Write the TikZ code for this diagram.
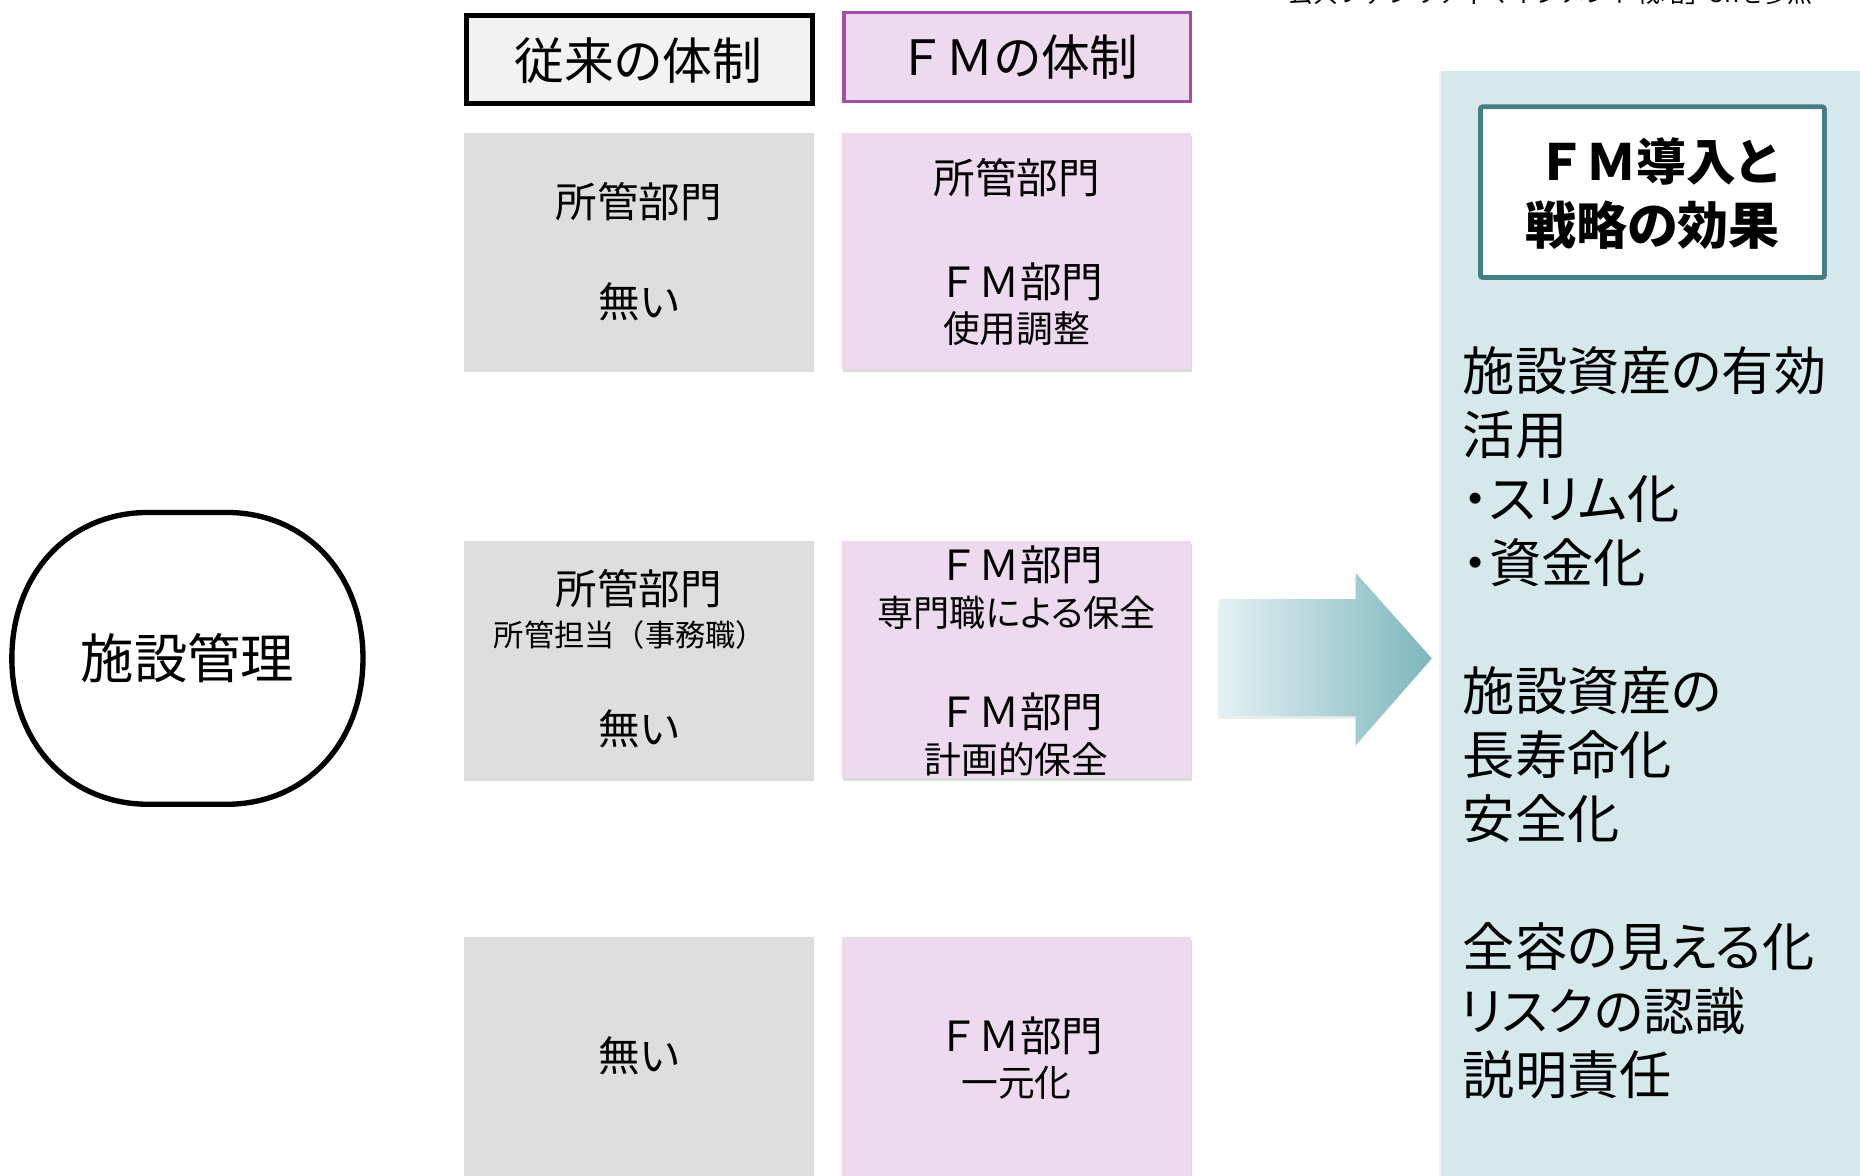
\documentclass[tikz,border=0pt]{standalone}
\usepackage{fontspec}
\setmainfont{Noto Sans CJK JP}[RawFeature=+palt]
\newfontfamily\fw{Noto Sans CJK JP}
\usetikzlibrary{shadows}
\definecolor{boxgray}{HTML}{DEDEDE}
\definecolor{headgray}{HTML}{F2F2F2}
\definecolor{boxpink}{HTML}{EDDAEE}
\definecolor{fmpurple}{HTML}{A24FA6}
\definecolor{panelteal}{HTML}{D5E8EB}
\definecolor{tealborder}{HTML}{457E83}
\definecolor{arrowlight}{HTML}{E4F1F4}
\definecolor{arrowdark}{HTML}{7DB7BD}
\tikzset{
  lbl/.style={inner sep=0pt, anchor=base},
  lftlbl/.style={inner sep=0pt, anchor=base west},
  fsz/.style={font=\fontsize{#1}{#1}\selectfont},
  bfsz/.style={font=\fontsize{#1}{#1}\selectfont\bfseries},
  shad/.style={drop shadow={shadow xshift=0.5pt, shadow yshift=-2.5pt, opacity=0.14, fill=black}},
  cellbox/.style={draw=none, shad},
}
\newcommand{\FMtxt}{{\fw ＦＭ}}
\begin{document}
\begin{tikzpicture}[x=1pt,y=-1pt]
\useasboundingbox (0,0) rectangle (1568,991);

% partially visible source note at top
\node[lftlbl, fsz=21] (src) at (1086,2) {{\fw 公共ファシリティマネジメント戦略」}5hを参照};

% right panel
\fill[panelteal, drop shadow={shadow xshift=-2pt, shadow yshift=-1pt, opacity=0.12}] (1215,60) rectangle (1600,1010);

% header boxes
\draw[line width=4pt, fill=headgray] (393,13) rectangle (685,87);
\node[lbl, fsz=42] (h1) at (538,67) {従来の体制};
\draw[line width=3pt, draw=fmpurple, fill=boxpink] (711.5,10.5) rectangle (1003.5,85.5);
\node[lbl, fsz=41] (h2) at (858,64) {\FMtxt の体制};

% row boxes
\fill[boxgray, cellbox] (391,112) rectangle (686,311);
\fill[boxpink, cellbox] (710,112) rectangle (1004,311);
\fill[boxgray, cellbox] (391,456) rectangle (686,656);
\fill[boxpink, cellbox] (710,456) rectangle (1004,656);
\fill[boxgray, cellbox] (391,790) rectangle (686,1010);
\fill[boxpink, cellbox] (710,790) rectangle (1004,1010);

% row 1 texts
\node[lbl, fsz=35] (r1a) at (538.5,183) {所管部門};
\node[lbl, fsz=35] (r1b) at (538.5,268) {無い};
\node[lbl, fsz=35] (r1c) at (857,163) {所管部門};
\node[lbl, fsz=35] (r1d) at (860,251) {\FMtxt 部門};
\node[lbl, fsz=31] (r1e) at (857,289) {使用調整};

% row 2 texts
\node[lbl, fsz=35] (r2a) at (538.5,510) {所管部門};
\node[lbl, fsz=25.5] (r2b) at (531,545) {\fw 所管担当（事務職）};
\node[lbl, fsz=35] (r2c) at (538.5,628) {無い};
\node[lbl, fsz=35] (r2d) at (860,489) {\FMtxt 部門};
\node[lbl, fsz=30.5] (r2e) at (857,528) {専門職による保全};
\node[lbl, fsz=35] (r2f) at (860,613) {\FMtxt 部門};
\node[lbl, fsz=31] (r2g) at (857,652) {計画的保全};

% row 3 texts
\node[lbl, fsz=35] (r3a) at (538.5,903) {無い};
\node[lbl, fsz=35] (r3b) at (860,886) {\FMtxt 部門};
\node[lbl, fsz=31] (r3c) at (857,924) {一元化};

% facility management shape
\draw[line width=4.5pt] (125,432) -- (191,432)
  .. controls (258,432) and (306,484) .. (306,555)
  .. controls (306,626) and (258,678) .. (191,678)
  -- (125,678)
  .. controls (58,678) and (10,626) .. (10,555)
  .. controls (10,484) and (58,432) .. (125,432) -- cycle;
\node[lbl, fsz=45] (fac) at (158,572) {施設管理};

% big arrow
\path[left color=arrowlight, right color=arrowdark,
      drop shadow={shadow xshift=-1pt, shadow yshift=-2pt, opacity=0.15}]
  (1028,505) -- (1143,505) -- (1143,483) -- (1207,555) -- (1143,628) -- (1143,604) -- (1028,604) -- cycle;

% effect title box
\draw[line width=4pt, draw=tealborder, fill=white, rounded corners=2pt] (1248,90) rectangle (1538,234);
\node[lbl, bfsz=42] (t1) at (1397,152) {\FMtxt 導入と};
\node[lbl, bfsz=43] (t2) at (1393,206) {戦略の効果};

% effect list
\node[lftlbl, fsz=44] (e1) at (1233,329) {施設資産の有効};
\node[lftlbl, fsz=44] (e2) at (1233,383) {活用};
\node[lftlbl, fsz=44] (e3) at (1233,437) {・スリム化};
\node[lftlbl, fsz=44] (e4) at (1233,491) {・資金化};
\node[lftlbl, fsz=44] (e5) at (1233,599) {施設資産の};
\node[lftlbl, fsz=44] (e6) at (1233,653) {長寿命化};
\node[lftlbl, fsz=44] (e7) at (1233,707) {安全化};
\node[lftlbl, fsz=44] (e8) at (1233,815) {全容の見える化};
\node[lftlbl, fsz=43] (e9) at (1231,869) {リスクの認識};
\node[lftlbl, fsz=44] (e10) at (1233,923) {説明責任};
\end{tikzpicture}
\end{document}
